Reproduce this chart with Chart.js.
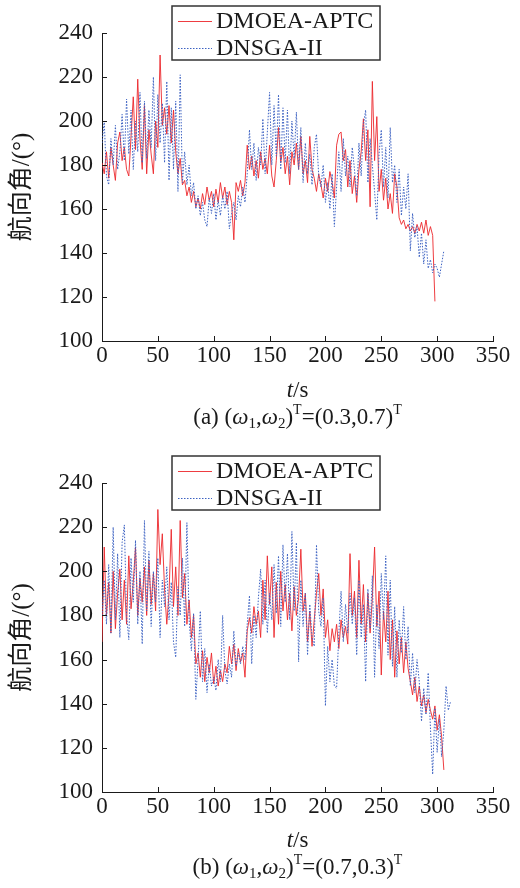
<!DOCTYPE html>
<html>
<head>
<meta charset="utf-8">
<script src="https://cdn.jsdelivr.net/npm/chart.js@4.4.0/dist/chart.umd.min.js"></script>
<style>
  body { margin: 0; background: #fff; }
  #wrap { position: relative; width: 520px; height: 888px; font-family: 'Liberation Serif', serif; color: #1a1a1a; }
  canvas { position: absolute; left: 0; }
  .lbl { position: absolute; left: 0; width: 595px; text-align: center; font-size: 23px; line-height: 23px; white-space: nowrap; }
  .lbl sub { font-size: 15px; vertical-align: -4px; line-height: 0; }
  .lbl sup { font-size: 14px; vertical-align: 10px; line-height: 0; }
</style>
</head>
<body>
<div id="wrap">
  <canvas id="chartA" width="520" height="400" style="top:0"></canvas>
  <canvas id="chartB" width="520" height="400" style="top:450px"></canvas>
  <div class="lbl" style="top:378px"><i>t</i>/s</div>
  <div class="lbl" style="top:405px">(a) (<i>ω</i><sub>1</sub>,<i>ω</i><sub>2</sub>)<sup>T</sup>=(0.3,0.7)<sup>T</sup></div>
  <div class="lbl" style="top:828px"><i>t</i>/s</div>
  <div class="lbl" style="top:855px">(b) (<i>ω</i><sub>1</sub>,<i>ω</i><sub>2</sub>)<sup>T</sup>=(0.7,0.3)<sup>T</sup></div>
</div>
<script>
// heading angle samples, one value every tStep seconds
const tStep = 2;
const xTicks = [0, 50, 100, 150, 200, 250, 300, 350];
const yTicks = [100, 120, 140, 160, 180, 200, 220, 240];
const seriesNames = ['DMOEA-APTC', 'DNSGA-II'];

// (a) w = (0.3, 0.7)
const redA = [
  181,176,186,174,188,180,173,190,195,182,
  188,178,175,193,211,187,219,192,178,207,
  176,196,185,176,200,188,230,198,206,194,
  207,190,205,186,176,183,171,173,166,170,
  163,168,161,165,160,167,162,170,164,168,
  161,169,163,172,165,170,162,168,163,146,
  172,168,173,166,172,189,178,184,175,182,
  174,186,178,183,176,189,175,170,182,197,
  181,188,176,184,171,186,180,190,178,193,
  176,182,172,193,178,174,168,176,171,165,
  174,168,177,172,165,189,194,195,182,187,
  170,182,167,175,163,178,186,201,182,196,
  161,218,182,202,168,178,164,174,160,167,
  158,176,170,156,153,155,151,153,150,152,
  149,153,150,154,149,155,148,152,148,118
];
const blueA = [
  190,200,175,171,192,180,198,178,186,203,
  182,210,185,205,178,200,186,213,181,209,
  183,205,188,220,182,212,190,208,181,218,
  173,206,178,209,168,221,172,186,171,180,
  166,172,160,166,157,163,155,152,165,158,
  167,155,164,157,166,160,168,151,158,163,
  155,166,161,170,163,176,196,178,190,173,
  188,180,201,176,195,213,180,207,184,212,
  178,206,181,205,176,200,183,204,178,197,
  172,190,176,185,171,188,194,175,170,180,
  163,172,160,176,152,170,186,168,192,175,
  184,170,188,178,166,190,175,198,205,172,
  192,180,168,155,185,196,170,188,165,197,
  172,180,163,178,157,170,160,176,141,158,
  147,152,138,149,135,146,133,137,131,135,
  133,129,135,141
];

// (b) w = (0.7, 0.3)
const redB = [
  168,211,180,195,172,200,174,190,201,178,
  196,176,207,183,195,211,180,197,186,202,
  180,205,185,199,182,228,203,217,192,176,
  190,219,184,202,180,223,188,199,176,187,
  170,180,158,163,152,164,150,161,154,163,
  149,157,148,155,150,158,154,166,158,167,
  155,165,159,163,152,173,179,172,184,176,
  182,170,196,178,207,185,202,170,195,176,
  200,182,194,178,190,173,193,180,188,210,
  182,190,168,182,166,178,190,199,180,192,
  170,178,164,174,168,176,165,178,170,175,
  167,208,180,191,170,205,176,194,168,190,
  172,188,211,175,191,153,182,168,191,160,
  178,152,173,158,170,154,168,156,150,144,
  152,141,148,139,144,136,142,137,133,139,
  128,135,125,110
];
const blueB = [
  180,196,176,203,172,220,178,208,170,213,
  221,180,169,206,186,214,176,200,167,223,
  182,209,175,200,186,206,170,196,184,202,
  178,195,168,161,193,180,206,175,222,178,
  164,181,142,160,182,150,165,145,158,148,
  152,146,160,150,180,155,149,158,152,173,
  157,163,158,166,160,176,189,158,180,170,
  188,201,176,196,172,190,178,203,181,207,
  175,212,186,208,178,218,182,213,159,196,
  175,190,162,185,170,166,212,182,175,188,
  139,166,150,160,148,147,172,191,168,185,
  172,190,176,188,162,196,170,185,150,192,
  174,198,152,185,165,199,178,207,162,196,
  157,184,152,178,163,184,160,175,148,163,
  145,160,150,132,147,135,154,129,108,138,
  118,133,116,128,148,137,141
];

const serif = "'Liberation Serif', 'Noto Sans CJK SC', serif";
const ink = '#1a1a1a';

function toPoints(arr) {
  return arr.map((v, i) => ({ x: i * tStep, y: v }));
}

// tick marks pointing into the plot, like the usual MATLAB axes
const inwardTicks = {
  id: 'inwardTicks',
  afterDraw(chart) {
    const { ctx, chartArea, scales } = chart;
    ctx.save();
    ctx.strokeStyle = ink;
    ctx.lineWidth = 1;
    ctx.beginPath();
    xTicks.forEach(v => {
      const px = Math.round(scales.x.getPixelForValue(v)) + 0.5;
      ctx.moveTo(px, chartArea.bottom);
      ctx.lineTo(px, chartArea.bottom - 5);
    });
    yTicks.forEach(v => {
      const py = Math.round(scales.y.getPixelForValue(v)) + 0.5;
      ctx.moveTo(chartArea.left, py);
      ctx.lineTo(chartArea.left + 5, py);
    });
    ctx.stroke();
    ctx.restore();
  }
};

// framed legend sitting over the top of the plot
const boxLegend = {
  id: 'boxLegend',
  afterDraw(chart, args, opts) {
    const ctx = chart.ctx;
    ctx.save();
    ctx.fillStyle = '#fff';
    ctx.fillRect(opts.x, opts.y, opts.w, opts.h);
    ctx.strokeStyle = '#333';
    ctx.lineWidth = 1.5;
    ctx.strokeRect(opts.x, opts.y, opts.w, opts.h);
    chart.data.datasets.forEach((ds, i) => {
      const cy = opts.y + 15 + i * 27;
      ctx.strokeStyle = ds.borderColor;
      ctx.lineWidth = 1;
      ctx.setLineDash(ds.borderDash || []);
      ctx.beginPath();
      ctx.moveTo(opts.x + 6, cy + 0.5);
      ctx.lineTo(opts.x + 40, cy + 0.5);
      ctx.stroke();
      ctx.setLineDash([]);
      ctx.fillStyle = ink;
      ctx.font = '24px ' + serif;
      ctx.textBaseline = 'middle';
      ctx.fillText(ds.label, opts.x + 44, cy + 1);
    });
    ctx.restore();
  }
};

function makeChart(id, red, blue, bottomPad) {
  return new Chart(document.getElementById(id), {
    type: 'line',
    data: {
      datasets: [
        { label: seriesNames[0], data: toPoints(red), borderColor: 'rgba(236,40,44,0.9)',
          borderWidth: 1, pointRadius: 0, tension: 0, order: 2 },
        { label: seriesNames[1], data: toPoints(blue), borderColor: '#3d62c2',
          borderWidth: 1, borderDash: [1.5, 1.5], pointRadius: 0, tension: 0, order: 1 }
      ]
    },
    options: {
      responsive: false,
      animation: false,
      layout: { padding: { top: 33, left: 0, right: 27, bottom: bottomPad } },
      plugins: {
        legend: { display: false },
        tooltip: { enabled: false },
        boxLegend: { x: 172, y: 6, w: 208, h: 54 }
      },
      scales: {
        x: {
          type: 'linear', min: 0, max: 350,
          afterBuildTicks: s => { s.ticks = xTicks.map(v => ({ value: v })); },
          afterFit: s => { s.height = 30; },
          ticks: { font: { family: serif, size: 23 }, color: ink, padding: 1, maxRotation: 0 },
          grid: { display: false, drawTicks: false },
          border: { color: ink, width: 1 }
        },
        y: {
          min: 100, max: 240,
          afterBuildTicks: s => { s.ticks = yTicks.map(v => ({ value: v })); },
          afterFit: s => { s.width = 102; },
          ticks: { font: { family: serif, size: 23 }, color: ink, padding: 9 },
          grid: { display: false, drawTicks: false },
          border: { color: ink, width: 1 },
          title: { display: true, text: '航向角/(°)', color: ink,
                   font: { family: serif, size: 25 }, padding: { top: 7 } }
        }
      }
    },
    plugins: [inwardTicks, boxLegend]
  });
}

makeChart('chartA', redA, blueA, 29);
makeChart('chartB', redB, blueB, 28);
</script>
</body>
</html>
